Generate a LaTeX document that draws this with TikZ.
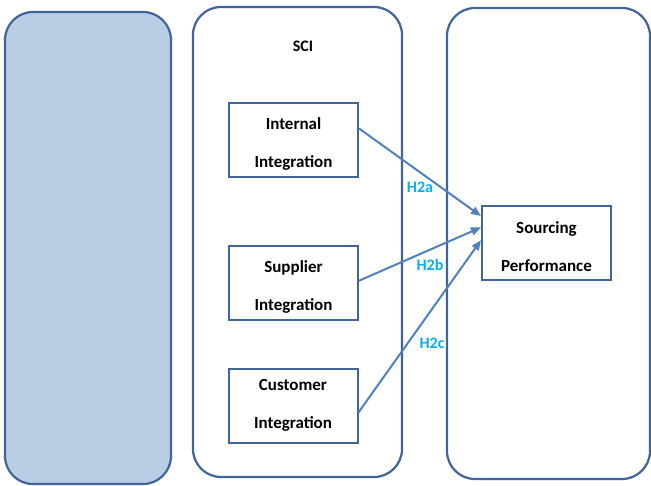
\documentclass[tikz,border=0pt]{standalone}
\usepackage{fontspec}
\setmainfont{Carlito}
\usetikzlibrary{arrows.meta}
\definecolor{frame}{HTML}{41649A}
\definecolor{panelfill}{HTML}{B9CDE5}
\definecolor{arrowblue}{HTML}{4F81BD}
\definecolor{hypcyan}{HTML}{00B0F0}
\begin{document}
\begin{tikzpicture}
    [x=1pt,y=-1pt,
     panel/.style={draw=frame,line width=2.2pt,rounded corners=28pt},
     box/.style={draw=frame,line width=2pt,minimum width=129pt,minimum height=74pt,
       align=center,font=\fontsize{17}{38}\selectfont\bfseries,inner sep=0pt,
       text height=58pt},
     hyp/.style={->,>={Triangle[length=10pt,width=8pt]},draw=arrowblue,line width=2pt},
     hlabel/.style={text=hypcyan,font=\fontsize{16}{18}\selectfont\bfseries}]
    \useasboundingbox (0,0) rectangle (651,485);
    % panels
    \draw [panel,fill=panelfill] (5,12) rectangle (171,484);
    \draw [panel] (193,7) rectangle (402,477);
    \draw [panel] (447,8) rectangle (650,479);
    \node [font=\fontsize{16}{18}\selectfont\bfseries] (sci) at (303,46) {SCI};
    % constructs
    \node [box] (ii) at (293.5,140) {Internal\\Integration};
    \node [box] (si) at (293.5,283) {Supplier\\Integration};
    \node [box,text height=48pt] (ci) at (293,405.5) {Customer\\Integration};
    \node [box] (sp) at (546.5,242.5) {Sourcing\\Performance};
    % hypotheses
    \draw [hyp] (ii.10) -- (sp.158);
    \draw [hyp] (si.2) -- (sp.167);
    \draw [hyp] (ci.-6) -- (sp.178);
    \node [hlabel] (h2a) at (420,187) {H2a};
    \node [hlabel] (h2b) at (430,265) {H2b};
    \node [hlabel] (h2c) at (432,343) {H2c};
\end{tikzpicture}
\end{document}
